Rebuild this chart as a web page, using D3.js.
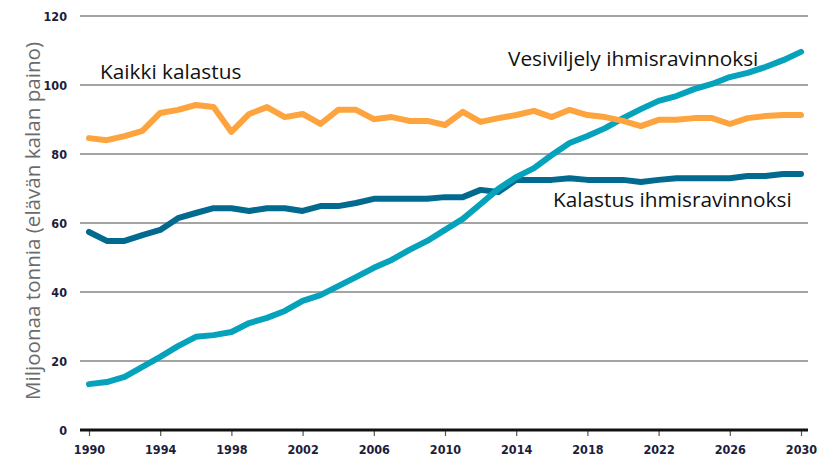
<!DOCTYPE html>
<html>
<head>
<meta charset="utf-8">
<script src="https://cdn.jsdelivr.net/npm/d3@7"></script>
<style>
  body { margin: 0; background: #fff; }
  .tick text { font-family: "Liberation Sans Narrow", "DejaVu Sans Condensed", sans-serif; font-weight: bold; font-size: 12.5px; fill: #1d1d3b; }
</style>
</head>
<body>
<svg id="chart" width="819" height="463"></svg>
<script>
// years 1990..2030
var years = d3.range(1990, 2031);

// Kaikki kalastus
var allFishing = [84.6, 84.0, 85.2, 86.7, 91.9, 92.8, 94.2, 93.6, 86.4, 91.6,
  93.6, 90.7, 91.6, 88.7, 92.8, 92.8, 90.1, 90.7, 89.6, 89.6,
  88.4, 92.2, 89.3, 90.4, 91.3, 92.5, 90.7, 92.8, 91.3, 90.7,
  89.6, 88.1, 89.9, 89.9, 90.4, 90.4, 88.7, 90.4, 91.0, 91.3, 91.3];

// Kalastus ihmisravinnoksi
var fishingFood = [57.4, 54.8, 54.8, 56.5, 58.0, 61.4, 62.9, 64.3, 64.3, 63.5,
  64.3, 64.3, 63.5, 64.9, 64.9, 65.8, 67.0, 67.0, 67.0, 67.0,
  67.5, 67.5, 69.6, 69.0, 72.5, 72.5, 72.5, 73.0, 72.5, 72.5,
  72.5, 71.9, 72.5, 73.0, 73.0, 73.0, 73.0, 73.6, 73.6, 74.2, 74.2];

// Vesiviljely ihmisravinnoksi
var aquaFood = [13.3, 13.9, 15.4, 18.3, 21.2, 24.3, 27.0, 27.5, 28.4, 31.0,
  32.5, 34.5, 37.4, 39.1, 41.7, 44.3, 47.0, 49.3, 52.2, 54.8,
  58.0, 61.2, 65.5, 69.9, 73.3, 75.9, 79.7, 83.2, 85.2, 87.5,
  90.4, 93.0, 95.4, 96.8, 98.8, 100.3, 102.3, 103.5, 105.2, 107.2, 109.6];

var xTicks = d3.range(1990, 2031, 4);
var yTicks = [0, 20, 40, 60, 80, 100, 120];

var svg = d3.select("#chart");

var x = d3.scaleLinear().domain([1990, 2030]).range([89, 801]);
var y = d3.scaleLinear().domain([0, 120]).range([430, 16]);

var gridLeft = 80, gridRight = 808;

// horizontal grid lines
svg.append("g")
  .selectAll("line")
  .data(yTicks.filter(function(d) { return d > 0; }))
  .join("line")
  .attr("x1", gridLeft)
  .attr("x2", gridRight)
  .attr("y1", function(d) { return y(d); })
  .attr("y2", function(d) { return y(d); })
  .attr("stroke", "#4a4a4a")
  .attr("stroke-width", 1.2);

// y tick labels
var yAxis = svg.append("g")
  .attr("transform", "translate(67,0)")
  .call(d3.axisLeft(y).tickValues(yTicks).tickSize(0).tickPadding(0));
yAxis.select(".domain").remove();

// x axis, ticks hang below the base line
var xAxis = svg.append("g")
  .attr("transform", "translate(0," + y(0) + ")")
  .call(d3.axisBottom(x).tickValues(xTicks).tickFormat(d3.format("d")).tickSize(6).tickPadding(9));
xAxis.select(".domain").remove();
xAxis.selectAll(".tick line").attr("stroke", "#555").attr("stroke-width", 1.2);

// base line at zero
svg.append("line")
  .attr("x1", gridLeft)
  .attr("x2", gridRight)
  .attr("y1", y(0))
  .attr("y2", y(0))
  .attr("stroke", "#111")
  .attr("stroke-width", 3);

// y title
svg.append("text")
  .attr("transform", "translate(40," + (y(60) - 2) + ") rotate(-90)")
  .attr("text-anchor", "middle")
  .style("font-family", "'Open Sans', 'Noto Sans', sans-serif")
  .style("font-size", "20.6px")
  .style("fill", "#6b6b6b")
  .text("Miljoonaa tonnia (elävän kalan paino)");

// series lines
var line = d3.line()
  .x(function(d, i) { return x(years[i]); })
  .y(function(d) { return y(d); });

var series = [
  { values: fishingFood, color: "#036a8f" },
  { values: aquaFood, color: "#05a2bb" },
  { values: allFishing, color: "#fda43e" }
];

svg.append("g")
  .selectAll("path")
  .data(series)
  .join("path")
  .attr("d", function(d) { return line(d.values); })
  .attr("fill", "none")
  .attr("stroke", function(d) { return d.color; })
  .attr("stroke-width", 6)
  .attr("stroke-linejoin", "round")
  .attr("stroke-linecap", "round");

// series labels
var labelFont = "'Open Sans', 'Noto Sans', sans-serif";
function label(txt, lx, ly) {
  svg.append("text")
    .attr("x", lx)
    .attr("y", ly)
    .style("font-family", labelFont)
    .style("font-size", "20.8px")
    .style("fill", "#111")
    .text(txt);
}
label("Kaikki kalastus", 100, 79);
label("Vesiviljely ihmisravinnoksi", 508, 66);
label("Kalastus ihmisravinnoksi", 553, 207);
</script>
</body>
</html>
